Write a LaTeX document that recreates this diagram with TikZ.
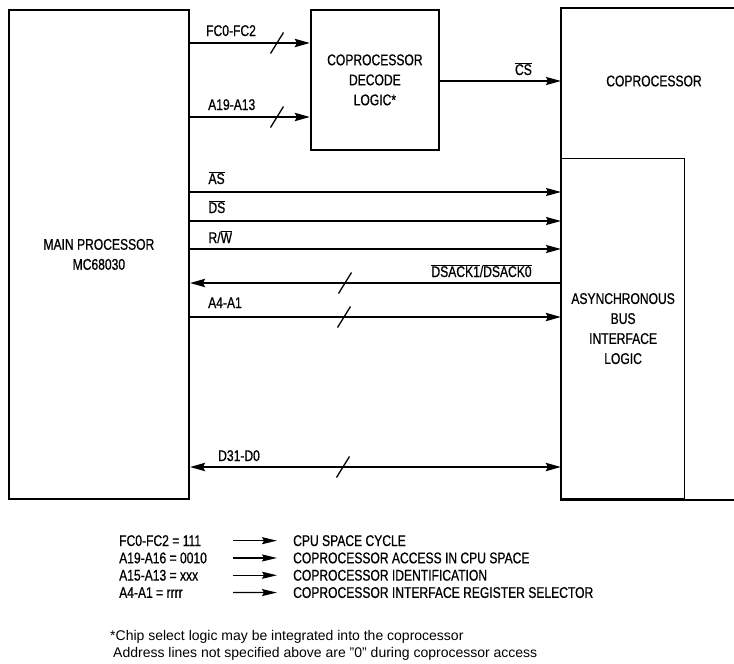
\documentclass[tikz,border=0pt]{standalone}
\usepackage{fontspec}
\setmainfont{Liberation Sans}
\newfontfamily\condfont[FakeStretch=0.78, FakeBold=0.7]{Liberation Sans}
\usetikzlibrary{arrows.meta, calc}
\newcommand{\negsig}[1]{$\overline{\mbox{#1}}$}

\begin{document}
\begin{tikzpicture}[
    x=1pt, y=-1pt,
    >={Stealth[length=15pt, width=8pt, inset=2pt]},
    block/.style={draw, line width=1.8pt, inner sep=0pt, align=center, font=\condfont\fontsize{15.5}{20}\selectfont},
    lbl/.style={inner sep=0pt, font=\condfont\fontsize{15.5}{17}\selectfont},
    sig/.style={->, line width=1.4pt},
    bus/.style={->, line width=2.8pt},
    slash/.style={line width=1.3pt},
    legarrow/.style={-{Stealth[length=15pt, width=7pt, inset=2pt]}, line width=1.2pt},
    note/.style={inner sep=0pt, anchor=base west, font=\fontsize{14}{17}\selectfont}
]
    \useasboundingbox (0,0) rectangle (734,664);

    % --- BLOCKS ---
    \node[block, minimum width=180pt, minimum height=489pt, anchor=north west] (main) at (8,9) {MAIN PROCESSOR\\MC68030};
    \node[block, minimum width=128pt, minimum height=140pt, anchor=north west] (decode) at (310,9) {COPROCESSOR\\DECODE\\LOGIC*};
    \node[block, draw=none, minimum width=173pt, minimum height=490pt, anchor=north west] (copro) at (561,8) {};
    \draw[line width=1.8pt] (copro.north east) -- (copro.north west) -- (copro.south west) -- (copro.south east);
    \node[lbl] (coptxt) at (654,81) {COPROCESSOR};
    \node[block, line width=1.2pt, minimum width=123pt, minimum height=340pt, anchor=north west] (bif) at (561,158) {ASYNCHRONOUS\\BUS\\INTERFACE\\LOGIC};

    % --- DECODE INPUTS ---
    \draw[bus] (main.east |- 0,43) -- node[lbl, at start, anchor=base west, shift={(15pt,7pt)}] {FC0-FC2} (decode.west |- 0,43);
    \draw[bus] (main.east |- 0,117) -- node[lbl, at start, anchor=base west, shift={(17pt,7pt)}] {A19-A13} (decode.west |- 0,117);
    \draw[sig] (decode.east |- 0,81) -- node[lbl, pos=0.69, anchor=base, yshift=6pt] {\negsig{CS}} (copro.west |- 0,81);

    % --- BUS INTERFACE ---
    \draw[sig] (main.east |- 0,192) -- node[lbl, at start, anchor=base west, shift={(18pt,8pt)}] {\negsig{AS}} (bif.west |- 0,192);
    \draw[sig] (main.east |- 0,221) -- node[lbl, at start, anchor=base west, shift={(18pt,8pt)}] {\negsig{DS}} (bif.west |- 0,221);
    \draw[sig] (main.east |- 0,249) -- node[lbl, at start, anchor=base west, shift={(18pt,6pt)}] {R/\negsig{W}} (bif.west |- 0,249);
    \draw[bus] (bif.west |- 0,283) -- node[lbl, at start, anchor=base east, shift={(-28pt,6pt)}] {\negsig{DSACK1}/\negsig{DSACK0}} (main.east |- 0,283);
    \draw[bus] (main.east |- 0,317) -- node[lbl, at start, anchor=base west, shift={(17pt,9pt)}] {A4-A1} (bif.west |- 0,317);
    \draw[bus, <->] (main.east |- 0,467) -- node[lbl, at start, anchor=base west, shift={(27pt,6pt)}] {D31-D0} (bif.west |- 0,467);

    % bus width marks
    \foreach \sx/\sy in {277/43, 277/117, 345/283, 344/317, 343/467}
        \draw[slash] (\sx-6.5,\sy+10.5) -- (\sx+6.5,\sy-10.5);

    % --- LEGEND ---
    \foreach \k/\v [count=\i] in {FC0-FC2 = 111/CPU SPACE CYCLE, A19-A16 = 0010/COPROCESSOR ACCESS IN CPU SPACE, A15-A13 = xxx/COPROCESSOR IDENTIFICATION, A4-A1 = rrrr/COPROCESSOR INTERFACE REGISTER SELECTOR} {
        \node[lbl, anchor=base west] (key\i) at (119,{546+17.3*(\i-1)}) {\k};
        \node[lbl, anchor=base west] (val\i) at (293,{546+17.3*(\i-1)}) {\v};
        \draw[legarrow] (key\i.west -| 233,0) -- (val\i.west -| 277,0);
    }

    % --- NOTES ---
    \node[note] (note1) at (110,640) {*Chip select logic may be integrated into the coprocessor};
    \node[note] (note2) at (113,657) {Address lines not specified above are ''0'' during coprocessor access};

\end{tikzpicture}
\end{document}
